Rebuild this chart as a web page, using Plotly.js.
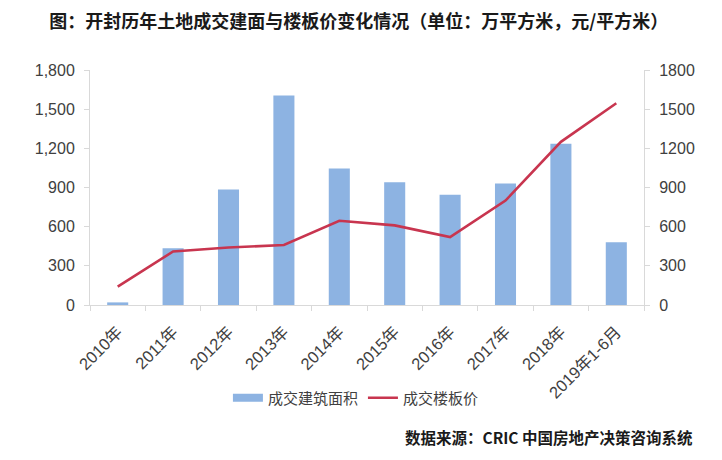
<!DOCTYPE html>
<html>
<head>
<meta charset="utf-8">
<script src="https://cdn.plot.ly/plotly-3.0.1.min.js"></script>
<style>html,body{margin:0;padding:0;background:#fff;}#chart{width:722px;height:460px;}</style>
</head>
<body>
<div id="chart"></div>
<script>
var categories = ["2010年","2011年","2012年","2013年","2014年","2015年","2016年","2017年","2018年","2019年1-6月"];
var areaValues = [20, 435, 885, 1605, 1045, 940, 845, 930, 1235, 480];
var priceValues = [140, 410, 440, 460, 645, 610, 520, 800, 1250, 1545];
var leftTicks = [0, 300, 600, 900, 1200, 1500, 1800];
var rightTicks = [0, 300, 600, 900, 1200, 1500, 1800];
var seriesNames = ["成交建筑面积", "成交楼板价"];
var titleText = "图：开封历年土地成交建面与楼板价变化情况（单位：万平方米，元/平方米）";
var sourceText = "数据来源：CRIC 中国房地产决策咨询系统";

var baseFont = "Liberation Sans, Arial, Noto Sans CJK SC, sans-serif";
var cjkFont = "Noto Sans CJK SC, sans-serif";
var barColor = "#8DB3E2";
var lineColor = "#C8354F";

var traces = [
  {
    type: "bar",
    x: categories,
    y: areaValues,
    name: seriesNames[0],
    marker: {color: barColor},
    width: 0.38,
    yaxis: "y",
    showlegend: false
  },
  {
    type: "scatter",
    mode: "lines",
    x: [null],
    y: [null],
    name: seriesNames[0],
    line: {color: barColor, width: 8},
    yaxis: "y",
    showlegend: true
  },
  {
    type: "scatter",
    mode: "lines",
    x: categories,
    y: priceValues,
    name: seriesNames[1],
    line: {color: lineColor, width: 2.6},
    yaxis: "y2"
  }
];

var layout = {
  width: 722,
  height: 460,
  margin: {l: 90, r: 78, t: 70, b: 155},
  paper_bgcolor: "#ffffff",
  plot_bgcolor: "#ffffff",
  font: {family: baseFont, color: "#595959", size: 14},
  title: {
    text: titleText,
    font: {family: cjkFont, size: 18, color: "#1a1a1a", weight: "bold"},
    xref: "container", x: 0.497, xanchor: "center",
    yref: "container", y: 0.952, yanchor: "middle"
  },
  xaxis: {
    type: "category",
    tickangle: -45,
    tickfont: {family: baseFont, size: 16.5, color: "#404040"},
    showline: true, linecolor: "#D9D9D9", linewidth: 1,
    ticks: "outside", tickson: "boundaries", ticklen: 5, tickcolor: "#D9D9D9",
    ticklabelstandoff: 10,
    showgrid: false, zeroline: false
  },
  yaxis: {
    range: [0, 1800],
    tickvals: leftTicks,
    tickformat: ",d",
    showline: true, linecolor: "#D9D9D9", linewidth: 1,
    ticks: "outside", ticklen: 5, tickcolor: "#D9D9D9",
    ticklabelstandoff: 6,
    showgrid: false, zeroline: false,
    tickfont: {size: 16, color: "#404040"}
  },
  yaxis2: {
    range: [0, 1800],
    tickvals: rightTicks,
    tickformat: "d",
    overlaying: "y",
    side: "right",
    showline: true, linecolor: "#D9D9D9", linewidth: 1,
    ticks: "outside", ticklen: 5, tickcolor: "#D9D9D9",
    ticklabelstandoff: 6,
    showgrid: false, zeroline: false,
    tickfont: {size: 16, color: "#404040"}
  },
  showlegend: true,
  legend: {
    orientation: "h",
    x: 0.48, xanchor: "center",
    y: -0.396, yanchor: "middle",
    font: {family: cjkFont, size: 15, color: "#404040"},
    itemwidth: 30,
    traceorder: "normal"
  },
  annotations: [
    {
      text: "<b>" + sourceText + "</b>",
      xref: "paper", yref: "paper",
      x: 1.092, xanchor: "right",
      y: -0.562, yanchor: "middle",
      showarrow: false,
      font: {family: cjkFont, size: 15.5, color: "#1a1a1a"}
    }
  ]
};

Plotly.newPlot("chart", traces, layout, {displayModeBar: false, staticPlot: true});
</script>
</body>
</html>
